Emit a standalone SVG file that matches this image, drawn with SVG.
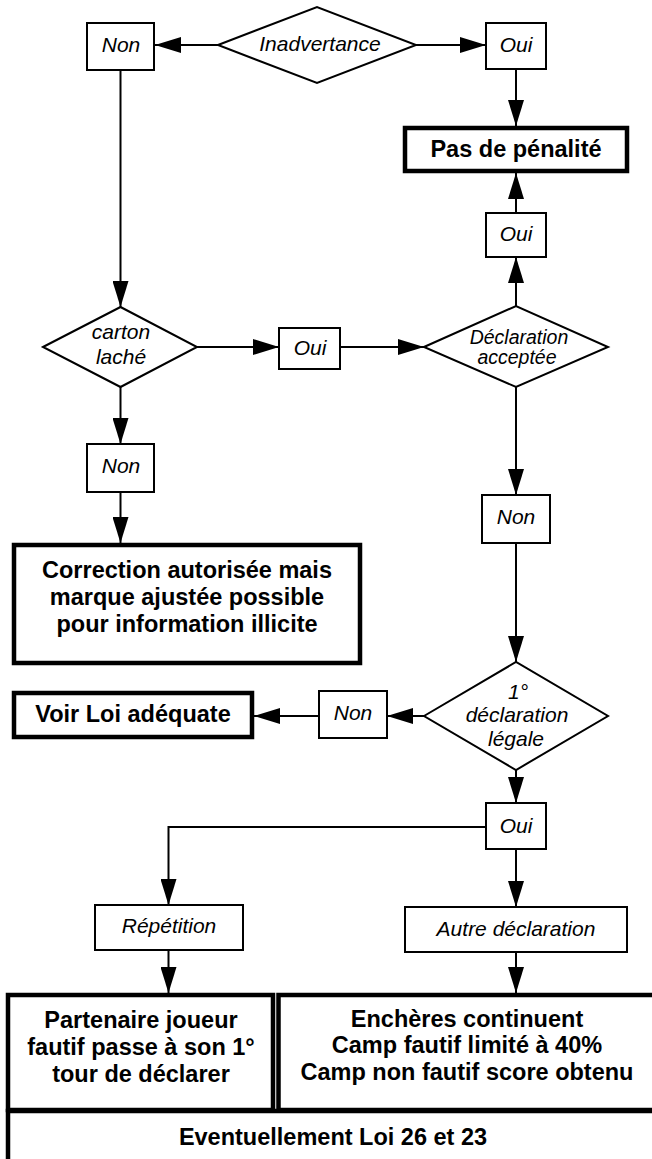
<svg xmlns="http://www.w3.org/2000/svg" width="652" height="1159" viewBox="0 0 652 1159">
<defs>
<marker id="arr" markerUnits="userSpaceOnUse" markerWidth="26" markerHeight="16" refX="26" refY="8" orient="auto">
<path d="M0,0 L26,8 L0,16 Z" fill="#000"/>
</marker>
<style>
.thin{fill:#fff;stroke:#000;stroke-width:2}
.thick{fill:#fff;stroke:#000;stroke-width:4.5}
.lbl{font-family:"Liberation Sans",Arial,sans-serif;font-style:italic;font-size:21px;text-anchor:middle;fill:#000}
.bold{font-family:"Liberation Sans",Arial,sans-serif;font-weight:bold;font-size:23.5px;text-anchor:middle;fill:#000}
.conn{fill:none;stroke:#000;stroke-width:2}
</style>
</defs>
<rect width="652" height="1159" fill="#fff"/>

<g id="connectors">
<line class="conn" x1="218" y1="45" x2="155" y2="45" marker-end="url(#arr)"/>
<line class="conn" x1="416" y1="45" x2="486" y2="45" marker-end="url(#arr)"/>
<line class="conn" x1="516" y1="69" x2="516" y2="126" marker-end="url(#arr)"/>
<line class="conn" x1="120.5" y1="70" x2="120.5" y2="307" marker-end="url(#arr)"/>
<line class="conn" x1="516" y1="213" x2="516" y2="173" marker-end="url(#arr)"/>
<line class="conn" x1="516" y1="306" x2="516" y2="257" marker-end="url(#arr)"/>
<line class="conn" x1="197" y1="347" x2="279" y2="347" marker-end="url(#arr)"/>
<line class="conn" x1="340" y1="347" x2="424" y2="347" marker-end="url(#arr)"/>
<line class="conn" x1="120.5" y1="387" x2="120.5" y2="444" marker-end="url(#arr)"/>
<line class="conn" x1="120.5" y1="492" x2="120.5" y2="543" marker-end="url(#arr)"/>
<line class="conn" x1="516" y1="387" x2="516" y2="495" marker-end="url(#arr)"/>
<line class="conn" x1="516" y1="543" x2="516" y2="662" marker-end="url(#arr)"/>
<line class="conn" x1="424" y1="716" x2="387" y2="716" marker-end="url(#arr)"/>
<line class="conn" x1="319" y1="716" x2="254" y2="716" marker-end="url(#arr)"/>
<line class="conn" x1="516" y1="770" x2="516" y2="803" marker-end="url(#arr)"/>
<polyline class="conn" points="486,827 168.5,827 168.5,905" marker-end="url(#arr)"/>
<line class="conn" x1="516" y1="849" x2="516" y2="907" marker-end="url(#arr)"/>
<line class="conn" x1="168.5" y1="950" x2="168.5" y2="993" marker-end="url(#arr)"/>
<line class="conn" x1="516" y1="952" x2="516" y2="993" marker-end="url(#arr)"/>
</g>

<g id="inadvertance">
<polygon class="thin" points="218,45 317,7 416,45 317,83"/>
<text class="lbl" x="320" y="51">Inadvertance</text>
</g>
<g id="non1">
<rect class="thin" x="87" y="23" width="67" height="47"/>
<text class="lbl" x="121" y="52">Non</text>
</g>
<g id="oui1">
<rect class="thin" x="486" y="23" width="60" height="46"/>
<text class="lbl" x="516" y="52">Oui</text>
</g>
<g id="pas-de-penalite">
<rect class="thick" x="405" y="128" width="222" height="43"/>
<text class="bold" x="516" y="157">Pas de pénalité</text>
</g>
<g id="oui2">
<rect class="thin" x="486" y="213" width="60" height="44"/>
<text class="lbl" x="516" y="241">Oui</text>
</g>
<g id="carton-lache">
<polygon class="thin" points="43,347 120.5,307 197,347 120.5,387"/>
<text class="lbl" x="121" y="339">carton</text>
<text class="lbl" x="121" y="364">laché</text>
</g>
<g id="oui3">
<rect class="thin" x="279" y="328" width="61" height="41"/>
<text class="lbl" x="310" y="355">Oui</text>
</g>
<g id="declaration-acceptee">
<polygon class="thin" points="424,347 516,306 608,347 516,387"/>
<text class="lbl" x="519" y="344" style="font-size:19.5px">Déclaration</text>
<text class="lbl" x="517" y="364" style="font-size:19.5px">acceptée</text>
</g>
<g id="non2">
<rect class="thin" x="87" y="444" width="67" height="48"/>
<text class="lbl" x="121" y="473">Non</text>
</g>
<g id="correction">
<rect class="thick" x="14" y="545" width="346" height="118"/>
<text class="bold" x="187" y="578">Correction autorisée mais</text>
<text class="bold" x="187" y="605">marque ajustée possible</text>
<text class="bold" x="187" y="632">pour information illicite</text>
</g>
<g id="non3">
<rect class="thin" x="482" y="495" width="68" height="48"/>
<text class="lbl" x="516" y="524">Non</text>
</g>
<g id="premiere-declaration-legale">
<polygon class="thin" points="424,716 516,662 608,716 516,770"/>
<text class="lbl" x="518" y="699">1°</text>
<text class="lbl" x="517" y="722">déclaration</text>
<text class="lbl" x="516" y="746">légale</text>
</g>
<g id="non4">
<rect class="thin" x="319" y="691" width="68" height="47"/>
<text class="lbl" x="353" y="720">Non</text>
</g>
<g id="voir-loi">
<rect class="thick" x="14" y="693" width="238" height="44"/>
<text class="bold" x="133" y="722">Voir Loi adéquate</text>
</g>
<g id="oui4">
<rect class="thin" x="486" y="803" width="60" height="46"/>
<text class="lbl" x="516" y="833">Oui</text>
</g>
<g id="repetition">
<rect class="thin" x="95" y="905" width="148" height="45"/>
<text class="lbl" x="169" y="933">Répétition</text>
</g>
<g id="autre-declaration">
<rect class="thin" x="405" y="907" width="222" height="45"/>
<text class="lbl" x="516" y="936">Autre déclaration</text>
</g>
<g id="eventuellement">
<rect class="thick" x="8" y="1111" width="670" height="70"/>
<text class="bold" x="333" y="1145">Eventuellement Loi 26 et 23</text>
</g>
<g id="partenaire">
<rect class="thick" x="8" y="995" width="265" height="115"/>
<text class="bold" x="141" y="1028">Partenaire joueur</text>
<text class="bold" x="141" y="1055">fautif passe à son 1°</text>
<text class="bold" x="141" y="1082">tour de déclarer</text>
</g>
<g id="encheres">
<rect class="thick" x="278.5" y="995" width="400" height="115"/>
<text class="bold" x="467" y="1027">Enchères continuent</text>
<text class="bold" x="467" y="1053">Camp fautif limité à 40%</text>
<text class="bold" x="467" y="1080">Camp non fautif score obtenu</text>
</g>
</svg>
